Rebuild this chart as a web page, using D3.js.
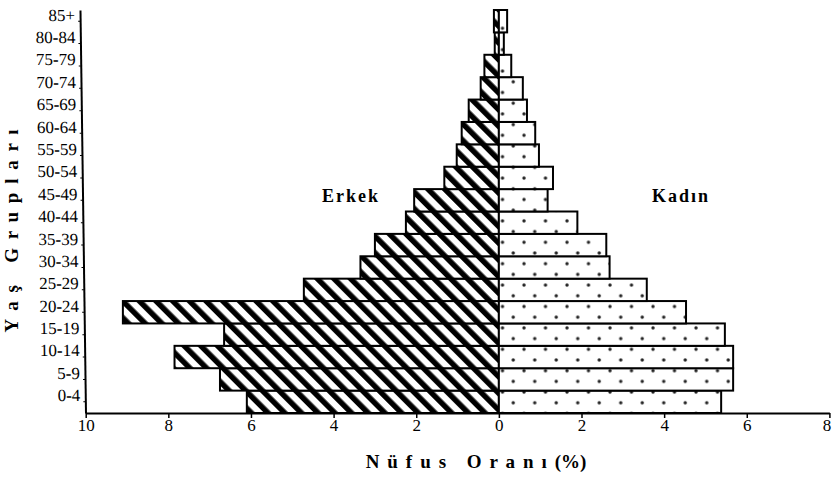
<!DOCTYPE html>
<html>
<head>
<meta charset="utf-8">
<script src="https://cdn.jsdelivr.net/npm/d3@7"></script>
<style>
  body { margin: 0; background: #fff; }
  svg { display: block; font-family: "Liberation Serif", "Times New Roman", serif; }
</style>
</head>
<body>
<svg id="chart" width="832" height="478"></svg>
<script>
// Age groups (bottom to top)
const ageGroups = ["0-4","5-9","10-14","15-19","20-24","25-29","30-34","35-39","40-44","45-49","50-54","55-59","60-64","65-69","70-74","75-79","80-84","85+"];
// Percent of population
const male   = [6.1, 6.75, 7.85, 6.65, 9.1, 4.72, 3.35, 3.0, 2.25, 2.05, 1.32, 1.02, 0.9, 0.73, 0.44, 0.35, 0.1, 0.12];
const female = [5.38, 5.67, 5.67, 5.47, 4.53, 3.58, 2.68, 2.6, 1.9, 1.18, 1.31, 0.97, 0.88, 0.68, 0.58, 0.3, 0.12, 0.2];
const xTicks = [-10, -8, -6, -4, -2, 0, 2, 4, 6, 8];
const maleLabel = "Erkek", femaleLabel = "Kadın";
const xTitleParts = ["N ü f u s   O r a n ı", "(%)"];
const yTitle = "Y a ş   G r u p l a r ı";

const svg = d3.select("#chart");
const defs = svg.append("defs");

// stripes for male
const ps = defs.append("pattern").attr("id", "stripes")
  .attr("patternUnits", "userSpaceOnUse")
  .attr("width", 11.8).attr("height", 12)
  .attr("patternTransform", "rotate(-45)");
ps.append("rect").attr("width", 11.8).attr("height", 12).attr("fill", "#fff");
ps.append("rect").attr("x", 1).attr("width", 5.5).attr("height", 12).attr("fill", "#000");

// dots for female
const pd = defs.append("pattern").attr("id", "dots")
  .attr("patternUnits", "userSpaceOnUse")
  .attr("width", 21.5).attr("height", 21.4)
  .attr("x", 4).attr("y", 3);
pd.append("rect").attr("width", 21.5).attr("height", 21.4).attr("fill", "#fff");
pd.append("circle").attr("cx", 4).attr("cy", 4).attr("r", 1.7).attr("fill", "#222");
pd.append("circle").attr("cx", 14.75).attr("cy", 14.7).attr("r", 1.7).attr("fill", "#222");

const x = d3.scaleLinear().domain([-10, 8]).range([85.7, 829.4]);
const y = d3.scaleBand().domain(ageGroups).range([413, 10]).padding(0);

// bars
svg.append("g").selectAll("rect").data(ageGroups).join("rect")
  .attr("x", (d, i) => x(-male[i]))
  .attr("y", d => y(d))
  .attr("width", (d, i) => x(0) - x(-male[i]))
  .attr("height", y.bandwidth())
  .attr("fill", "url(#stripes)")
  .attr("stroke", "#000").attr("stroke-width", 2);

svg.append("g").selectAll("rect").data(ageGroups).join("rect")
  .attr("x", x(0))
  .attr("y", d => y(d))
  .attr("width", (d, i) => x(female[i]) - x(0))
  .attr("height", y.bandwidth())
  .attr("fill", "url(#dots)")
  .attr("stroke", "#000").attr("stroke-width", 2);

// x axis
const gx = svg.append("g").attr("transform", "translate(0,413)")
  .call(d3.axisBottom(x).tickValues(xTicks).tickFormat(d => Math.abs(d)).tickSize(5).tickPadding(1).tickSizeOuter(0));
gx.select(".domain").attr("stroke-width", 2);
gx.selectAll(".tick line").attr("stroke-width", 1.5);
gx.selectAll("text").attr("font-size", 17).attr("font-family", "Liberation Serif").attr("fill", "#000")
  .attr("dx", d => d === 8 ? -3 : 0);

// y axis (slightly slanted like the scan)
const skew = Math.atan(0.0137) * 180 / Math.PI;
const gy = svg.append("g").attr("transform", `translate(85.5,413) skewX(${skew}) translate(0,-413)`)
  .call(d3.axisLeft(y).tickSize(2).tickPadding(3).tickSizeOuter(0));
gy.select(".domain").attr("stroke-width", 2);
gy.selectAll("text").attr("font-size", 17).attr("font-family", "Liberation Serif").attr("fill", "#000")
  .attr("y", -6);

// series labels
svg.append("text").attr("x", 351).attr("y", 202).attr("text-anchor", "middle")
  .attr("font-weight", "bold").attr("font-size", 18).attr("letter-spacing", 2).text(maleLabel);
svg.append("text").attr("x", 681).attr("y", 202).attr("text-anchor", "middle")
  .attr("font-weight", "bold").attr("font-size", 18).attr("letter-spacing", 2).text(femaleLabel);

// axis titles
const xt = svg.append("text").attr("x", 476).attr("y", 468).attr("text-anchor", "middle")
  .attr("font-weight", "bold").attr("font-size", 19).attr("xml:space", "preserve").style("white-space", "pre");
xt.append("tspan").attr("letter-spacing", 1.6).text(xTitleParts[0] + " ");
xt.append("tspan").text(xTitleParts[1]);
svg.append("text").attr("transform", "translate(18,230) rotate(-90)").attr("text-anchor", "middle")
  .attr("font-weight", "bold").attr("font-size", 19).attr("letter-spacing", 2)
  .attr("xml:space", "preserve").style("white-space", "pre").text(yTitle);
</script>
</body>
</html>
